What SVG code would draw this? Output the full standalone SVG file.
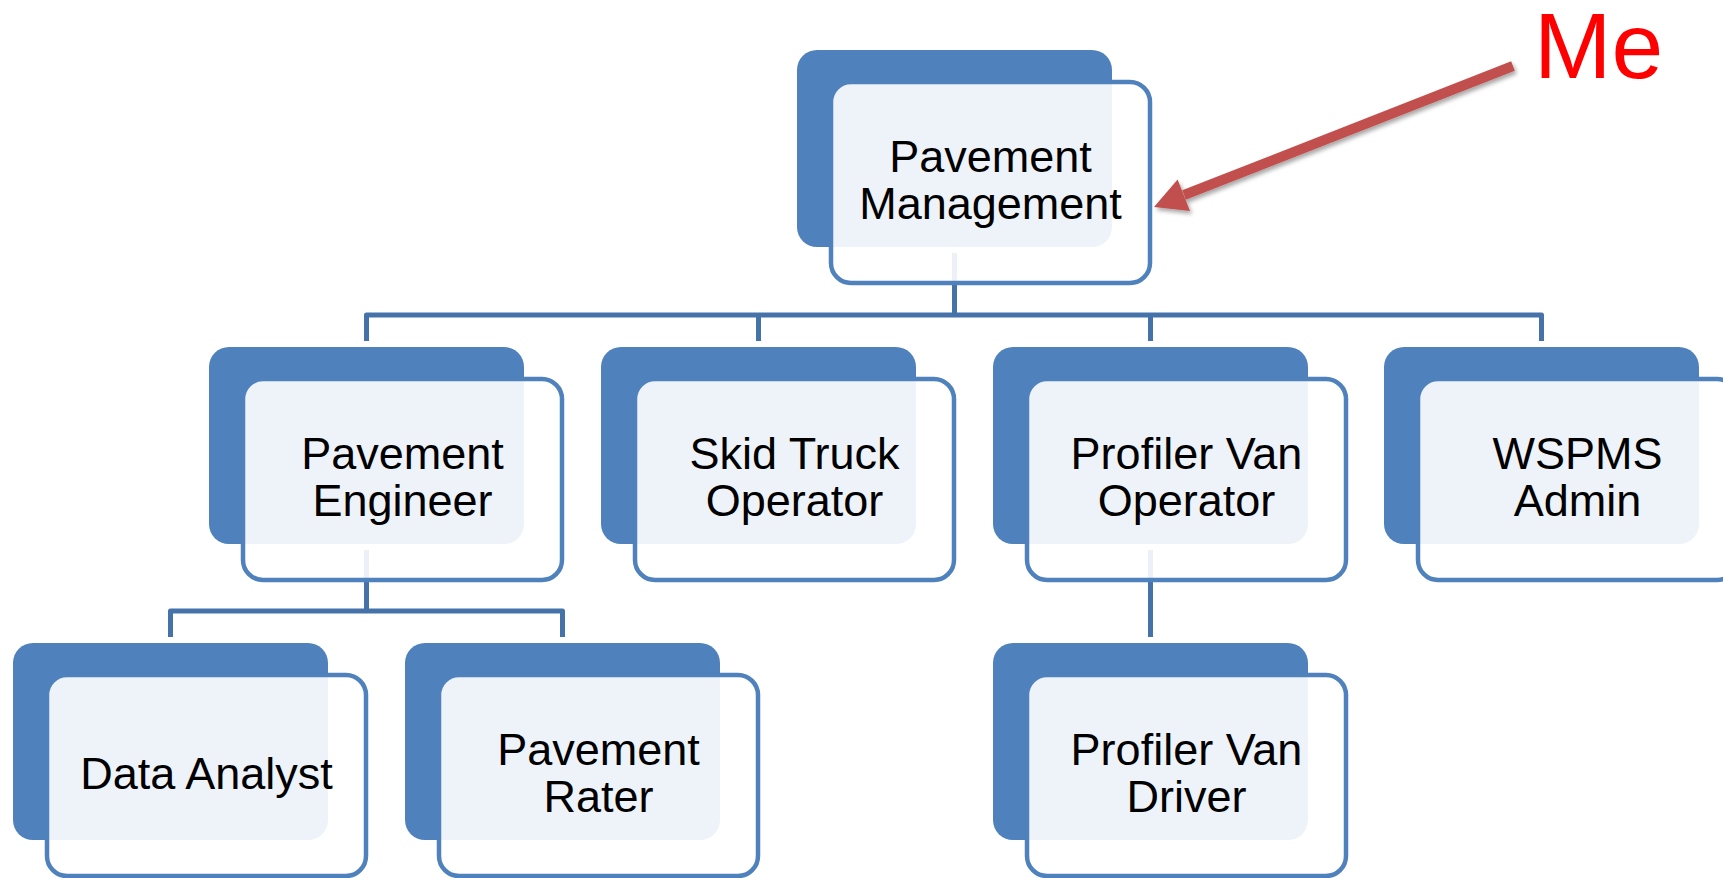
<svg xmlns="http://www.w3.org/2000/svg" width="1723" height="878" viewBox="0 0 1723 878">
<style>
.back{fill:#4F81BD;}
.front{fill:#FFFFFF;fill-opacity:0.9;stroke:#4F81BD;stroke-width:4.5;}
.conn{fill:none;stroke:#4672AA;stroke-width:5;stroke-linejoin:round;}
.lbl{font-family:"Liberation Sans",Arial,sans-serif;font-size:45px;fill:#000000;text-anchor:middle;}
.me{font-family:"Liberation Sans",Arial,sans-serif;font-size:93px;fill:#FF0000;}
</style>
<defs>
<filter id="sh" x="-10%" y="-20%" width="120%" height="140%">
<feDropShadow dx="2" dy="3" stdDeviation="2" flood-color="#000000" flood-opacity="0.35"/>
</filter>
</defs>
<rect width="1723" height="878" fill="#FFFFFF"/>
<g id="connectors">
<path class="conn" d="M954.5,253 V315"/>
<path class="conn" d="M366.5,341 V315 H1541.5 V341"/>
<path class="conn" d="M758.5,315 V341"/>
<path class="conn" d="M1150.5,315 V341"/>
<path class="conn" d="M366.5,550 V611"/>
<path class="conn" d="M170.5,637 V611 H562.5 V637"/>
<path class="conn" d="M1150.5,550 V637"/>
</g>
<g id="node-pavement-management">
<rect class="back" x="797" y="50" width="315" height="197" rx="20"/>
<rect class="front" x="831" y="82" width="319" height="201" rx="20"/>
<text class="lbl" x="990.5" y="172">Pavement</text>
<text class="lbl" x="990.5" y="219">Management</text>
</g>
<g id="node-pavement-engineer">
<rect class="back" x="209" y="347" width="315" height="197" rx="20"/>
<rect class="front" x="243" y="379" width="319" height="201" rx="20"/>
<text class="lbl" x="402.5" y="469">Pavement</text>
<text class="lbl" x="402.5" y="516">Engineer</text>
</g>
<g id="node-skid-truck-operator">
<rect class="back" x="601" y="347" width="315" height="197" rx="20"/>
<rect class="front" x="635" y="379" width="319" height="201" rx="20"/>
<text class="lbl" x="794.5" y="469">Skid Truck</text>
<text class="lbl" x="794.5" y="516">Operator</text>
</g>
<g id="node-profiler-van-operator">
<rect class="back" x="993" y="347" width="315" height="197" rx="20"/>
<rect class="front" x="1027" y="379" width="319" height="201" rx="20"/>
<text class="lbl" x="1186.5" y="469">Profiler Van</text>
<text class="lbl" x="1186.5" y="516">Operator</text>
</g>
<g id="node-wspms-admin">
<rect class="back" x="1384" y="347" width="315" height="197" rx="20"/>
<rect class="front" x="1418" y="379" width="319" height="201" rx="20"/>
<text class="lbl" x="1577.5" y="469">WSPMS</text>
<text class="lbl" x="1577.5" y="516">Admin</text>
</g>
<g id="node-data-analyst">
<rect class="back" x="13" y="643" width="315" height="197" rx="20"/>
<rect class="front" x="47" y="675" width="319" height="201" rx="20"/>
<text class="lbl" x="206.5" y="789">Data Analyst</text>
</g>
<g id="node-pavement-rater">
<rect class="back" x="405" y="643" width="315" height="197" rx="20"/>
<rect class="front" x="439" y="675" width="319" height="201" rx="20"/>
<text class="lbl" x="598.5" y="765">Pavement</text>
<text class="lbl" x="598.5" y="812">Rater</text>
</g>
<g id="node-profiler-van-driver">
<rect class="back" x="993" y="643" width="315" height="197" rx="20"/>
<rect class="front" x="1027" y="675" width="319" height="201" rx="20"/>
<text class="lbl" x="1186.5" y="765">Profiler Van</text>
<text class="lbl" x="1186.5" y="812">Driver</text>
</g>
<g id="annotation-me" filter="url(#sh)">
<line x1="1513" y1="66" x2="1184" y2="195" stroke="#C0504D" stroke-width="10"/>
<polygon points="1154,207 1177.6,179.5 1190,211" fill="#C0504D"/>
</g>
<text class="me" x="1534" y="78">Me</text>
</svg>
